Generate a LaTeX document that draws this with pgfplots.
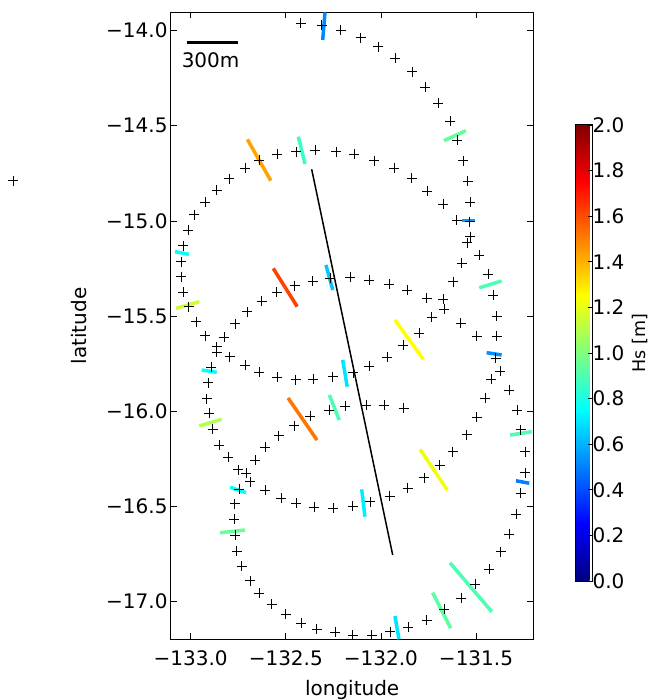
\documentclass[border=0pt]{standalone}
\usepackage{fontspec}
\setmainfont{DejaVu Sans}
\usepackage{pgfplots}
\pgfplotsset{compat=1.18}
\pgfplotsset{
  tick label style={font=\fontsize{20bp}{24bp}\selectfont},
  label style={font=\fontsize{20bp}{24bp}\selectfont},
}
\pgfplotstableread{
x y
-132.422 -13.961
-132.311 -13.970
-132.211 -13.996
-132.106 -14.037
-132.014 -14.084
-131.924 -14.145
-131.835 -14.215
-131.767 -14.297
-131.698 -14.382
-131.637 -14.475
-131.598 -14.574
-131.567 -14.683
-131.544 -14.790
-131.532 -14.900
-132.981 -14.966
-132.925 -14.902
-132.863 -14.837
-132.797 -14.777
-132.715 -14.723
-132.639 -14.682
-132.545 -14.648
-132.446 -14.636
-132.345 -14.627
-132.236 -14.636
-132.141 -14.650
-132.035 -14.683
-131.931 -14.723
-131.838 -14.776
-131.756 -14.842
-131.672 -14.910
-131.601 -14.995
-131.534 -15.003
-131.532 -15.083
-131.546 -15.114
-131.483 -15.179
-131.575 -15.222
-131.435 -15.279
-131.619 -15.319
-131.409 -15.389
-131.672 -15.410
-131.759 -15.406
-131.668 -15.464
-131.733 -15.507
-131.391 -15.501
-131.580 -15.536
-131.496 -15.606
-131.391 -15.606
-131.798 -15.589
-131.397 -15.720
-131.374 -15.790
-131.421 -15.830
-131.325 -15.888
-131.453 -15.932
-131.284 -15.993
-131.496 -16.030
-131.266 -16.096
-131.549 -16.122
-131.242 -16.212
-131.623 -16.212
-131.242 -16.322
-131.691 -16.282
-131.265 -16.429
-131.772 -16.348
-131.288 -16.542
-131.860 -16.405
-131.325 -16.645
-131.954 -16.447
-131.370 -16.738
-132.055 -16.475
-131.430 -16.830
-132.148 -16.498
-131.505 -16.908
-132.250 -16.510
-131.579 -16.983
-132.350 -16.505
-131.668 -17.041
-132.444 -16.482
-131.759 -17.097
-132.525 -16.457
-131.856 -17.135
-132.607 -16.416
-131.952 -17.158
-132.048 -17.176
-132.148 -17.176
-132.241 -17.161
-132.338 -17.146
-132.420 -17.114
-132.501 -17.067
-132.574 -17.014
-132.639 -16.956
-132.688 -16.890
-132.732 -16.813
-132.758 -16.734
-132.767 -16.650
-132.772 -16.568
-132.769 -16.486
-132.746 -16.408
-132.687 -16.370
-132.708 -16.326
-132.750 -16.307
-132.802 -16.240
-132.850 -16.177
-132.884 -16.095
-132.902 -16.011
-132.916 -15.934
-132.909 -15.850
-132.892 -15.767
-132.662 -16.256
-132.608 -16.188
-132.537 -16.129
-132.456 -16.075
-132.373 -16.026
-132.271 -15.993
-132.189 -15.974
-132.078 -15.969
-131.984 -15.969
-131.880 -15.983
-132.863 -15.661
-132.863 -15.691
-132.825 -15.611
-132.795 -15.713
-132.715 -15.757
-132.639 -15.795
-132.545 -15.821
-132.449 -15.833
-132.355 -15.830
-132.254 -15.818
-132.147 -15.797
-132.061 -15.762
-131.966 -15.715
-131.882 -15.654
-132.925 -15.602
-132.971 -15.529
-133.011 -15.450
-133.039 -15.375
-133.049 -15.293
-133.049 -15.214
-133.039 -15.129
-133.014 -15.049
-132.767 -15.540
-132.702 -15.477
-132.627 -15.422
-132.548 -15.374
-132.454 -15.339
-132.359 -15.316
-132.266 -15.301
-132.161 -15.294
-132.061 -15.310
-131.956 -15.331
-131.861 -15.363
}\points
\pgfplotstableread{
x1 y1 x2 y2 hs
-132.294 -13.904 -132.306 -14.049 0.52
-132.702 -14.571 -132.579 -14.788 1.43
-132.434 -14.557 -132.399 -14.700 0.86
-131.668 -14.578 -131.553 -14.525 0.94
-131.575 -14.998 -131.505 -14.998 0.56
-133.083 -15.161 -133.009 -15.175 0.76
-133.077 -15.459 -132.955 -15.424 1.15
-132.566 -15.249 -132.440 -15.450 1.62
-132.289 -15.231 -132.253 -15.363 0.64
-131.483 -15.351 -131.365 -15.315 0.90
-131.926 -15.520 -131.777 -15.727 1.25
-131.444 -15.692 -131.365 -15.704 0.53
-132.942 -15.783 -132.863 -15.795 0.76
-132.201 -15.730 -132.177 -15.871 0.70
-132.488 -15.930 -132.336 -16.151 1.52
-132.271 -15.914 -132.219 -16.046 0.90
-132.955 -16.077 -132.837 -16.042 1.10
-131.321 -16.125 -131.207 -16.107 0.90
-131.794 -16.200 -131.651 -16.414 1.22
-131.290 -16.365 -131.220 -16.378 0.50
-132.793 -16.399 -132.709 -16.428 0.76
-132.846 -16.638 -132.715 -16.624 0.95
-132.101 -16.410 -132.084 -16.554 0.72
-131.637 -16.796 -131.417 -17.053 0.90
-131.728 -16.953 -131.633 -17.140 0.93
-131.926 -17.076 -131.905 -17.198 0.70
}\segments
\begin{document}
\begin{tikzpicture}
\useasboundingbox (-171bp,-60.7bp) rectangle (477bp,639.3bp);
\begin{axis}[
  at={(0,0)}, anchor=south west,
  scale only axis, width=362.3bp, height=626.8bp,
  xmin=-133.1036, xmax=-131.1987, ymin=-17.1981, ymax=-13.9044,
  clip=false,
  axis line style={line width=1bp},
  tick align=inside,
  major tick length=6bp,
  every tick/.style={black, line width=0.8bp},
  xtick={-133,-132.5,-132,-131.5},
  xticklabels={−133.0,−132.5,−132.0,−131.5},
  xticklabel style={yshift=-8bp},
  ytick={-17,-16.5,-16,-15.5,-15,-14.5,-14},
  yticklabels={−17.0,−16.5,−16.0,−15.5,−15.0,−14.5,−14.0},
  xlabel={longitude}, ylabel={latitude},
  xlabel style={at={(axis description cs:0.5,-0.08887)}, anchor=base, inner sep=0pt},
  ylabel style={at={(axis description cs:-0.2346,0.5)}, anchor=base, inner sep=0pt},
  colormap/jet,
  point meta min=0, point meta max=2,
  colorbar,
  colorbar style={
    at={(parent axis.north east)}, anchor=north west,
    xshift=33.7bp, yshift=-112.5bp,
    scale only axis, width=16.5bp, height=456bp,
    axis line style={line width=1bp},
    ytick={0,0.2,0.4,0.6,0.8,1.0,1.2,1.4,1.6,1.8,2.0},
    yticklabels={0.0,0.2,0.4,0.6,0.8,1.0,1.2,1.4,1.6,1.8,2.0},
    yticklabel shift=-3bp,
    tick align=inside, ytick pos=right, yticklabel pos=right,
    major tick length=4bp,
    every tick/.style={black, line width=0.8bp},
  },
]
\addplot[only marks, mark=+, mark size=5bp, black, mark options={line width=0.7bp}] table[x=x,y=y] {\points};
\addplot[only marks, mark=+, mark size=5bp, black, mark options={line width=0.7bp}] coordinates {(-133.933,-14.788)};
\addplot[black, line width=1.5bp] coordinates {(-132.364,-14.728) (-131.938,-16.755)};
\addplot[quiver={u=\thisrow{x2}-\thisrow{x1}, v=\thisrow{y2}-\thisrow{y1}, colored=mapped color},
  line width=3.5bp, point meta=\thisrow{hs}] table[x=x1,y=y1] {\segments};
\addplot[black, line width=3.5bp] coordinates {(-133.021,-14.061) (-132.753,-14.061)};
\node[anchor=base west, inner sep=0pt, font=\fontsize{20bp}{24bp}\selectfont] at (axis cs:-133.048,-14.192) {300m};
\node[rotate=90, anchor=center, inner sep=0pt, font=\fontsize{17.5bp}{21bp}\selectfont] at (axis cs:-130.640,-15.641) {Hs [m]};
\end{axis}
\end{tikzpicture}
\end{document}
